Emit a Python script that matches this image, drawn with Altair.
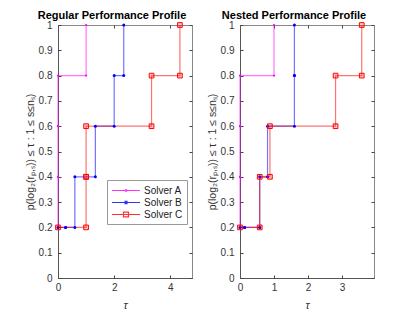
import altair as alt
import pandas as pd

solvers = ["Solver A", "Solver B", "Solver C"]
colors = ["#ff00ff", "#0000ff", "#ff0000"]

# Regular performance profile (tau, rho) step points
reg_tau_a = [0, 0, 0, 0, 1.0]
reg_rho_a = [0.2, 0.4, 0.6, 0.8, 1.0]
reg_tau_b = [0, 0.27, 0.6, 1.33, 2.0, 2.34]
reg_rho_b = [0.2, 0.2, 0.4, 0.6, 0.8, 1.0]
reg_tau_c = [0, 1.0, 1.0, 3.33, 4.34]
reg_rho_c = [0.2, 0.4, 0.6, 0.8, 1.0]

# Nested performance profile
nest_tau_a = [0, 0, 0, 0, 1.0]
nest_rho_a = [0.2, 0.4, 0.6, 0.8, 1.0]
nest_tau_b = [0, 0.135, 0.58, 0.81, 1.6, 1.6]
nest_rho_b = [0.2, 0.2, 0.4, 0.6, 0.8, 1.0]
nest_tau_c = [0, 0.58, 0.88, 2.81, 3.58]
nest_rho_c = [0.2, 0.4, 0.6, 0.8, 1.0]

reg_xmax = 4.77
nest_xmax = 3.94
reg_xticks = [0, 2, 4]
nest_xticks = [0, 1, 2, 3]
y_ticks = [0, 0.1, 0.2, 0.3, 0.4, 0.5, 0.6, 0.7, 0.8, 0.9, 1.0]

FONT = "Liberation Sans"
W, H = 134, 253
YTITLE = "p(log\u2082(r\u209a,\u209b)) \u2264 \u03c4 : 1 \u2264 s\u2264n\u209b)"

# legend symbol paths: a line sample with the marker in its middle
legend_shapes = [
    "M-1,0H4.09M1.45,-0.12H1.65V0.12H1.45Z",
    "M-1,0H4.09M1.38,-0.2H1.72V0.2H1.38Z",
    "M-1,0H4.09M1.09,-0.42H2V0.42H1.09Z",
]


def stairs(taus, rhos):
    xs, ys = [taus[0]], [rhos[0]]
    for i in range(1, len(taus)):
        xs += [taus[i], taus[i]]
        ys += [rhos[i - 1], rhos[i]]
    return xs, ys


def tick_axis(orient, offset, values):
    return alt.Axis(orient=orient, offset=offset, values=values, labels=False,
                    domain=False, ticks=True, tickSize=3, tickColor="#444",
                    tickWidth=1, title=None, grid=False, minExtent=0, maxExtent=0)


def panel(title, series, xmax, xticks, show_legend):
    rows = []
    for name, (t, r) in zip(solvers, series):
        xs, ys = stairs(t, r)
        for k, (x, y) in enumerate(zip(xs, ys)):
            rows.append({"solver": name, "tau": x, "rho": y, "k": k})
    df = pd.DataFrame(rows)
    xscale = alt.Scale(domain=[0, xmax], nice=False, zero=False)
    yscale = alt.Scale(domain=[0, 1], nice=False)
    cscale = alt.Scale(domain=solvers, range=colors)

    if show_legend:
        legend = alt.Legend(
            title=None, orient="none", legendX=49, legendY=155, direction="vertical",
            fillColor="white", strokeColor="#999", padding=4, labelFont=FONT,
            labelFontSize=10, labelColor="#222", symbolSize=121, symbolStrokeWidth=1.2,
            labelOffset=20, rowPadding=0, symbolOpacity=0.8,
        )
    else:
        legend = None

    main_x = alt.Axis(values=xticks, title="\u03c4", ticks=False, tickSize=0, grid=False,
                      labelPadding=4, titlePadding=7, labelFlush=False,
                      titleFontStyle="italic", titleFontSize=11, titleFontWeight="normal")
    main_y = alt.Axis(values=y_ticks, format="~g", title=YTITLE, ticks=False, tickSize=0,
                      grid=False, labelPadding=6, titlePadding=3, titleFontWeight="normal",
                      titleFontSize=10.5)

    base = alt.Chart(df)
    lines = base.mark_line(strokeWidth=1.2, opacity=0.55).encode(
        x=alt.X("tau:Q", scale=xscale, axis=main_x),
        y=alt.Y("rho:Q", scale=yscale, axis=main_y),
        color=alt.Color("solver:N", scale=cscale, legend=legend),
        order="k:Q",
    )
    pts_a = base.transform_filter(alt.datum.solver == "Solver A").mark_circle(
        size=5, color=colors[0], opacity=1).encode(
        x=alt.X("tau:Q", scale=xscale, axis=tick_axis("top", -H, xticks)),
        y=alt.Y("rho:Q", scale=yscale, axis=tick_axis("right", -W, y_ticks)),
    )
    pts_b = base.transform_filter(alt.datum.solver == "Solver B").mark_circle(
        size=9, color=colors[1], opacity=1).encode(
        x=alt.X("tau:Q", scale=xscale, axis=tick_axis("bottom", -H, xticks)),
        y=alt.Y("rho:Q", scale=yscale, axis=tick_axis("left", -W, y_ticks)),
    )
    pts_c = base.transform_filter(alt.datum.solver == "Solver C").mark_square(
        size=22, fill=colors[2], fillOpacity=0.2, stroke=colors[2], strokeWidth=1,
        opacity=1).encode(
        x=alt.X("tau:Q", scale=xscale, axis=None),
        y=alt.Y("rho:Q", scale=yscale, axis=None),
    )
    layers = [lines, pts_a, pts_b, pts_c]
    if show_legend:
        leg_layer = base.transform_filter("false").mark_point(
            filled=False, opacity=0.8, strokeWidth=1.2).encode(
            x=alt.X("tau:Q", scale=xscale, axis=None),
            y=alt.Y("rho:Q", scale=yscale, axis=None),
            color=alt.Color("solver:N", scale=cscale, legend=legend),
            shape=alt.Shape("solver:N", scale=alt.Scale(domain=solvers, range=legend_shapes),
                            legend=legend),
        )
        layers.append(leg_layer)
    return alt.layer(*layers).resolve_axis(
        x="independent", y="independent").properties(
        width=W, height=H,
        title=alt.TitleParams(title, anchor="middle", frame="group", dx=-13, offset=-1),
    )


left = panel("Regular Performance Profile",
             [(reg_tau_a, reg_rho_a), (reg_tau_b, reg_rho_b), (reg_tau_c, reg_rho_c)],
             reg_xmax, reg_xticks, True)
right = panel("Nested Performance Profile",
              [(nest_tau_a, nest_rho_a), (nest_tau_b, nest_rho_b), (nest_tau_c, nest_rho_c)],
              nest_xmax, nest_xticks, False)

chart = alt.hconcat(left, right, spacing=13).configure_view(
    stroke="#888", strokeWidth=1
).configure_axis(
    labelFont=FONT, labelFontSize=10, labelColor="#333",
    titleFont=FONT, titleFontSize=10, titleColor="#333", domainColor="#555",
).configure_title(
    font=FONT, fontSize=11, fontWeight="bold", color="black"
).properties(
    padding={"left": 16, "top": 1, "right": 0, "bottom": 0}
)

chart.save("out.html", embed_options={"renderer": "svg", "actions": False})
